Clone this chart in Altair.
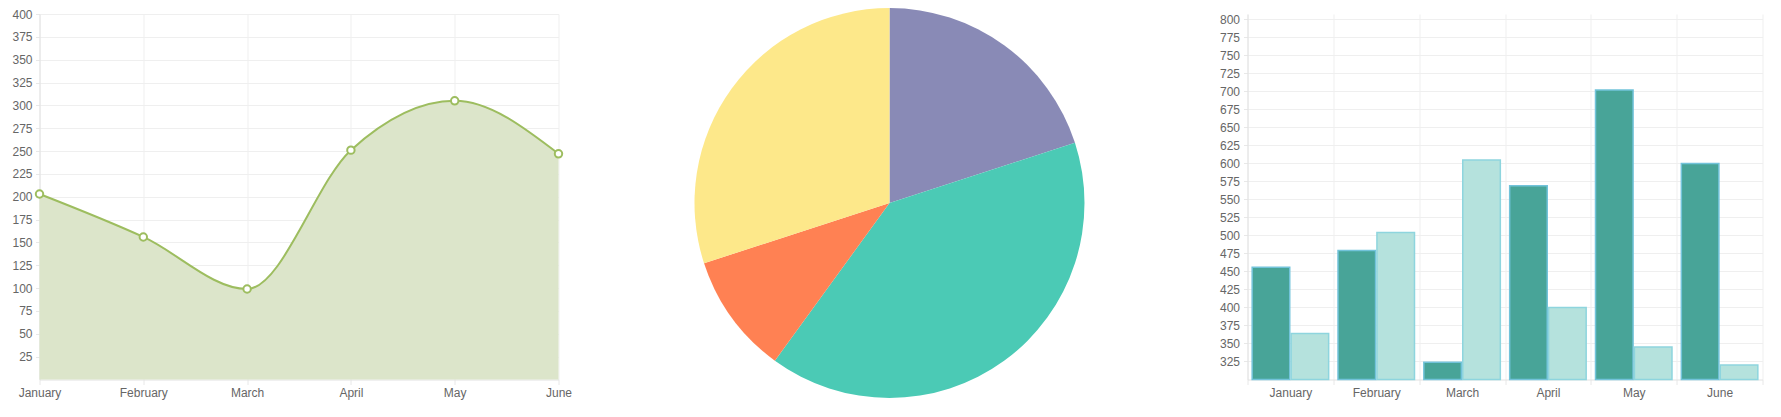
import altair as alt
import pandas as pd

# ---------------- data ----------------
months = ["January", "February", "March", "April", "May", "June"]
line_values = [203, 156, 99, 251, 305, 247]

pie_labels = ["Slice A", "Slice B", "Slice C", "Slice D"]
pie_values = [20, 40, 10, 30]
pie_colors = ["#898AB6", "#4BCAB5", "#FF8153", "#FDE88A"]

bar_series = ["Series A", "Series B"]
bar_a = [456, 479, 324, 569, 702, 600]
bar_b = [364, 504, 605, 400, 345, 320]
bar_fill = ["#48A498", "#B5E2DD"]
bar_stroke = ["#72C3DA", "#8ED5DE"]

line_ticks = list(range(25, 401, 25))
bar_ticks = list(range(325, 801, 25))

# ---------------- tables ----------------
line_df = pd.DataFrame({"month": months, "value": line_values})
pie_df = pd.DataFrame({"label": pie_labels, "value": pie_values,
                       "idx": list(range(len(pie_labels)))})
bar_df = pd.DataFrame({
    "month": months * 2,
    "series": [bar_series[0]] * 6 + [bar_series[1]] * 6,
    "value": bar_a + bar_b,
})

GRID = "#EFEFEF"
LINE_GREEN = "#9DBD5F"
AREA_GREEN = "#DCE5CA"
H = 365.5

# ---------------- line chart ----------------
lx = alt.X("month:N", sort=months,
           scale=alt.Scale(type="point", padding=0),
           axis=alt.Axis(title=None, labelAngle=0, grid=True, tickSize=5,
                         labelPadding=3))
ly = alt.Y("value:Q",
           scale=alt.Scale(domain=[0, 400], nice=False),
           axis=alt.Axis(title=None, values=line_ticks, grid=True,
                         tickSize=4, labelPadding=3.5))

base = alt.Chart(line_df).encode(x=lx, y=ly)
area = base.mark_area(interpolate="monotone", color=AREA_GREEN, opacity=1)
line = base.mark_line(interpolate="monotone", color=LINE_GREEN, strokeWidth=2)
pts = base.mark_circle(fill="white", stroke=LINE_GREEN, strokeWidth=2,
                       size=55, opacity=1)
line_chart = alt.layer(area, line, pts).properties(width=519, height=H)

# ---------------- pie chart ----------------
pie_chart = alt.Chart(pie_df).mark_arc(radius=195).encode(
    theta=alt.Theta("value:Q", stack=True),
    color=alt.Color("label:N",
                    scale=alt.Scale(domain=pie_labels, range=pie_colors),
                    legend=None),
    order=alt.Order("idx:Q"),
    x=alt.value(311),
    y=alt.value(189),
).properties(width=649, height=H)

# ---------------- bar chart ----------------
bar_chart = alt.Chart(bar_df).mark_bar(strokeWidth=1.5).encode(
    x=alt.X("month:N", sort=months,
            scale=alt.Scale(paddingInner=0, paddingOuter=0),
            axis=alt.Axis(title=None, labelAngle=0, grid=True,
                          tickBand="extent", tickSize=5, labelPadding=3)),
    xOffset=alt.XOffset("series:N", sort=bar_series,
                        scale=alt.Scale(paddingInner=0.035, paddingOuter=0.12)),
    y=alt.Y("value:Q",
            scale=alt.Scale(domain=[300, 807.6], nice=False, zero=False),
            axis=alt.Axis(title=None, values=bar_ticks, grid=True,
                          tickSize=4, labelPadding=4)),
    y2=alt.datum(300),
    color=alt.Color("series:N",
                    scale=alt.Scale(domain=bar_series, range=bar_fill),
                    legend=None),
    stroke=alt.Stroke("series:N",
                      scale=alt.Scale(domain=bar_series, range=bar_stroke),
                      legend=None),
).properties(width=515, height=H)

chart = alt.hconcat(line_chart, pie_chart, bar_chart, spacing=20,
                    bounds="flush").resolve_scale(
    color="independent", stroke="independent"
).properties(
    padding={"left": 3.5, "top": 0, "right": 5, "bottom": 5}
).configure_view(stroke=None).configure_axis(
    labelFont="Liberation Sans",
    labelFontSize=12,
    labelColor="#666666",
    gridColor=GRID,
    domainColor="#E2E2E2",
    tickColor="#E8E8E8",
)

chart.save("out.html", embed_options={"renderer": "svg", "actions": False})
